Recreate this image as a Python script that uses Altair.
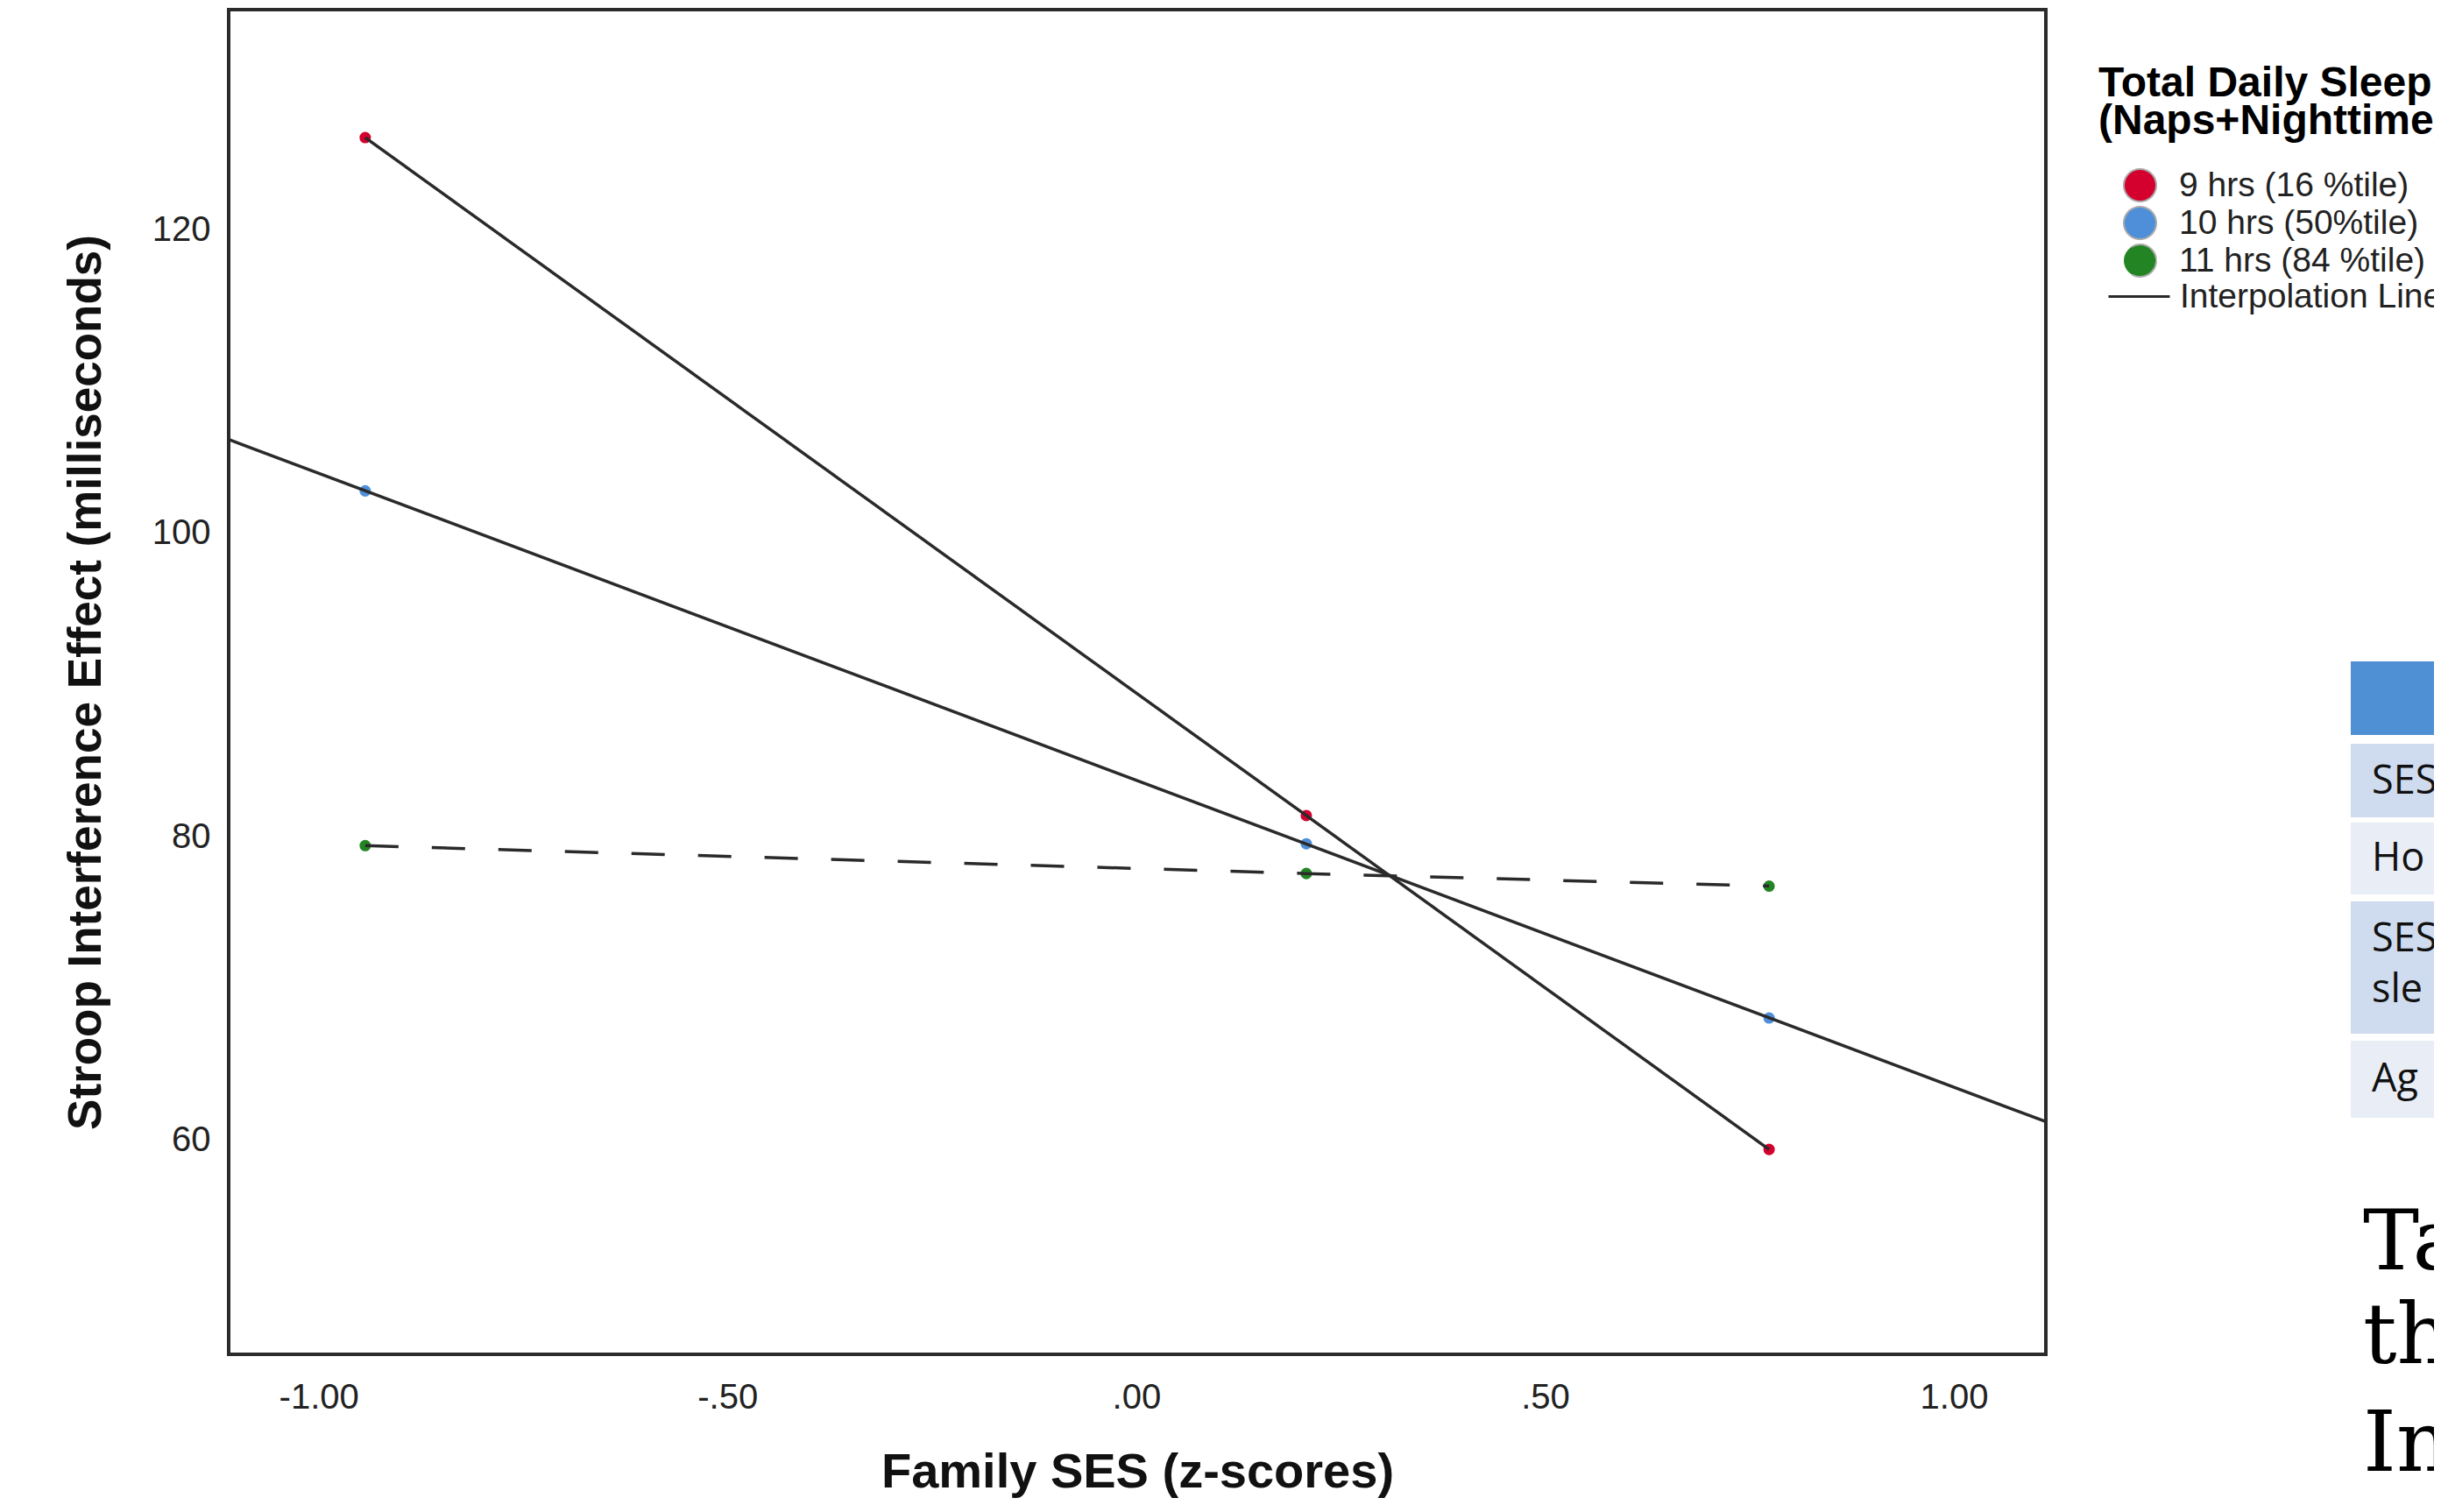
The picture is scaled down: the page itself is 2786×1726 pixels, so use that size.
import altair as alt
import pandas as pd

# ---- data ----
ses_levels = [-0.943, 0.208, 0.774]          # Family SES (z-scores) of the plotted points
sleep_groups = ["9 hrs (16 %tile)", "10 hrs (50%tile)", "11 hrs (84 %tile)"]
stroop_9h = [126.07, 81.40, 59.40]
stroop_10h = [102.79, 79.54, 68.06]
stroop_11h = [79.42, 77.58, 76.75]
x_ticks = [-1.0, -0.5, 0.0, 0.5, 1.0]
y_ticks = [60, 80, 100, 120]
x_domain = [-1.11, 1.1125]
y_domain = [45.9, 134.5]
group_colors = ["#D4002E", "#4F8FDA", "#238423"]
line_label = "Interpolation Line"

table_rows = ["SES", "Ho", "SES", "sle", "Ag"]
caption_lines = ["Ta", "th", "In"]

rows = []
for g, vals in zip(sleep_groups, [stroop_9h, stroop_10h, stroop_11h]):
    for s, v in zip(ses_levels, vals):
        rows.append({"ses": s, "stroop": v, "group": g})
df = pd.DataFrame(rows)

FONT = "Liberation Sans"
OX, OY = 261, 11  # plot origin on the page
LINE_COLOR = "#2a2a2a"

x_enc = alt.X("ses:Q",
              scale=alt.Scale(domain=x_domain, nice=False, zero=False),
              axis=alt.Axis(values=x_ticks,
                            labelExpr="(datum.value < 0 ? '-' : '') + (abs(datum.value) < 1 ? substring(format(abs(datum.value), '.2f'), 1) : format(abs(datum.value), '.2f'))",
                            title="Family SES (z-scores)", grid=False, ticks=False, domain=False,
                            labelFont=FONT, labelFontSize=40, labelColor="#222", labelPadding=29,
                            labelFlush=False, labelOverlap=False,
                            titleFont=FONT, titleFontSize=56, titleFontWeight="bold",
                            titleColor="#111", titlePadding=38))
y_enc = alt.Y("stroop:Q",
              scale=alt.Scale(domain=y_domain, nice=False, zero=False),
              axis=alt.Axis(values=y_ticks, format="d",
                            title="Stroop Interference Effect (milliseconds)", grid=False,
                            ticks=False, domain=False,
                            labelFont=FONT, labelFontSize=40, labelColor="#222", labelPadding=21,
                            labelOverlap=False,
                            titleFont=FONT, titleFontSize=53, titleFontWeight="bold",
                            titleColor="#111", titlePadding=48))

color_enc = alt.Color("group:N",
                      scale=alt.Scale(domain=sleep_groups, range=group_colors),
                      legend=alt.Legend(title=["Total Daily Sleep", "(Naps+Nighttime)"],
                                        orient="none", legendX=2395 - OX, legendY=61,
                                        padding=0,
                                        titleFont=FONT, titleFontSize=48, titleFontWeight="bold",
                                        titleColor="#000", titleLineHeight=43, titlePadding=29,
                                        titleLimit=3000,
                                        labelFont=FONT, labelFontSize=39, labelColor="#222",
                                        labelLimit=3000, labelOffset=25,
                                        symbolType="circle", symbolSize=1369, symbolOffset=28,
                                        symbolStrokeColor="#aaaaaa", symbolStrokeWidth=2,
                                        rowPadding=-2))

stroke_enc = alt.Stroke("interp:N",
                        scale=alt.Scale(domain=[line_label], range=[LINE_COLOR]),
                        legend=alt.Legend(title=None, orient="none",
                                          legendX=2405 - OX, legendY=291, padding=0,
                                          labelFont=FONT, labelFontSize=39, labelColor="#222",
                                          labelLimit=3000, labelOffset=10,
                                          symbolType="stroke", symbolSize=4900,
                                          symbolStrokeWidth=3))

base = alt.Chart(df)

points = base.mark_circle(size=170, opacity=1).encode(x=x_enc, y=y_enc, color=color_enc)

seg_lines = base.transform_filter(
    alt.datum.group != sleep_groups[1]
).transform_calculate(interp=f"'{line_label}'").mark_line(strokeWidth=3.5, clip=True).encode(
    x=x_enc, y=y_enc, detail="group:N", stroke=stroke_enc,
    strokeDash=alt.StrokeDash("group:N",
                              scale=alt.Scale(domain=sleep_groups, range=[[1, 0], [1, 0], [38, 38]]),
                              legend=None))

fit_line = base.transform_filter(
    alt.datum.group == sleep_groups[1]
).transform_regression("ses", "stroop", extent=x_domain).transform_calculate(
    interp=f"'{line_label}'").mark_line(strokeWidth=3.5, clip=True).encode(
    x=x_enc, y=y_enc, stroke=stroke_enc)

# ---- slide fragments to the right of the chart (table + caption) ----
dummy = alt.Chart(pd.DataFrame({"a": [0]}))


def rect(x1, y1, x2, y2, color):
    return dummy.mark_rect(color=color).encode(
        x=alt.value(x1 - OX), x2=alt.value(x2 - OX), y=alt.value(y1 - OY), y2=alt.value(y2 - OY))


def txt(s, x, y, size, font, color="#111"):
    return dummy.mark_text(text=s, align="left", baseline="middle", font=font,
                           fontSize=size, color=color).encode(
        x=alt.value(x - OX), y=alt.value(y - OY))


extras = [
    rect(2683, 755, 2800, 839, "#4F8FD3"),
    rect(2683, 849, 2800, 933, "#CFDBEE"),
    rect(2683, 939, 2800, 1021, "#E8EDF6"),
    rect(2683, 1029, 2800, 1180, "#CFDBEE"),
    rect(2683, 1188, 2800, 1276, "#E8EDF6"),
    txt(table_rows[0], 2707, 892, 45, "Open Sans"),
    txt(table_rows[1], 2707, 980, 45, "Open Sans"),
    txt(table_rows[2], 2707, 1072, 45, "Open Sans"),
    txt(table_rows[3], 2707, 1130, 45, "Open Sans"),
    txt(table_rows[4], 2707, 1232, 45, "Open Sans"),
    txt(caption_lines[0], 2697, 1420, 96, "DejaVu Serif", "#000"),
    txt(caption_lines[1], 2697, 1527, 96, "DejaVu Serif", "#000"),
    txt(caption_lines[2], 2697, 1650, 96, "DejaVu Serif", "#000"),
]

chart = alt.layer(points, seg_lines, fit_line, *extras).properties(
    width=2074, height=1535,
    padding={"left": 253, "top": 3, "right": 443, "bottom": 166},
    autosize=alt.AutoSizeParams(type="none"),
).configure_view(stroke="#2b2b2b", strokeWidth=4)

chart.save("out.html", embed_options={"renderer": "svg", "actions": False})
